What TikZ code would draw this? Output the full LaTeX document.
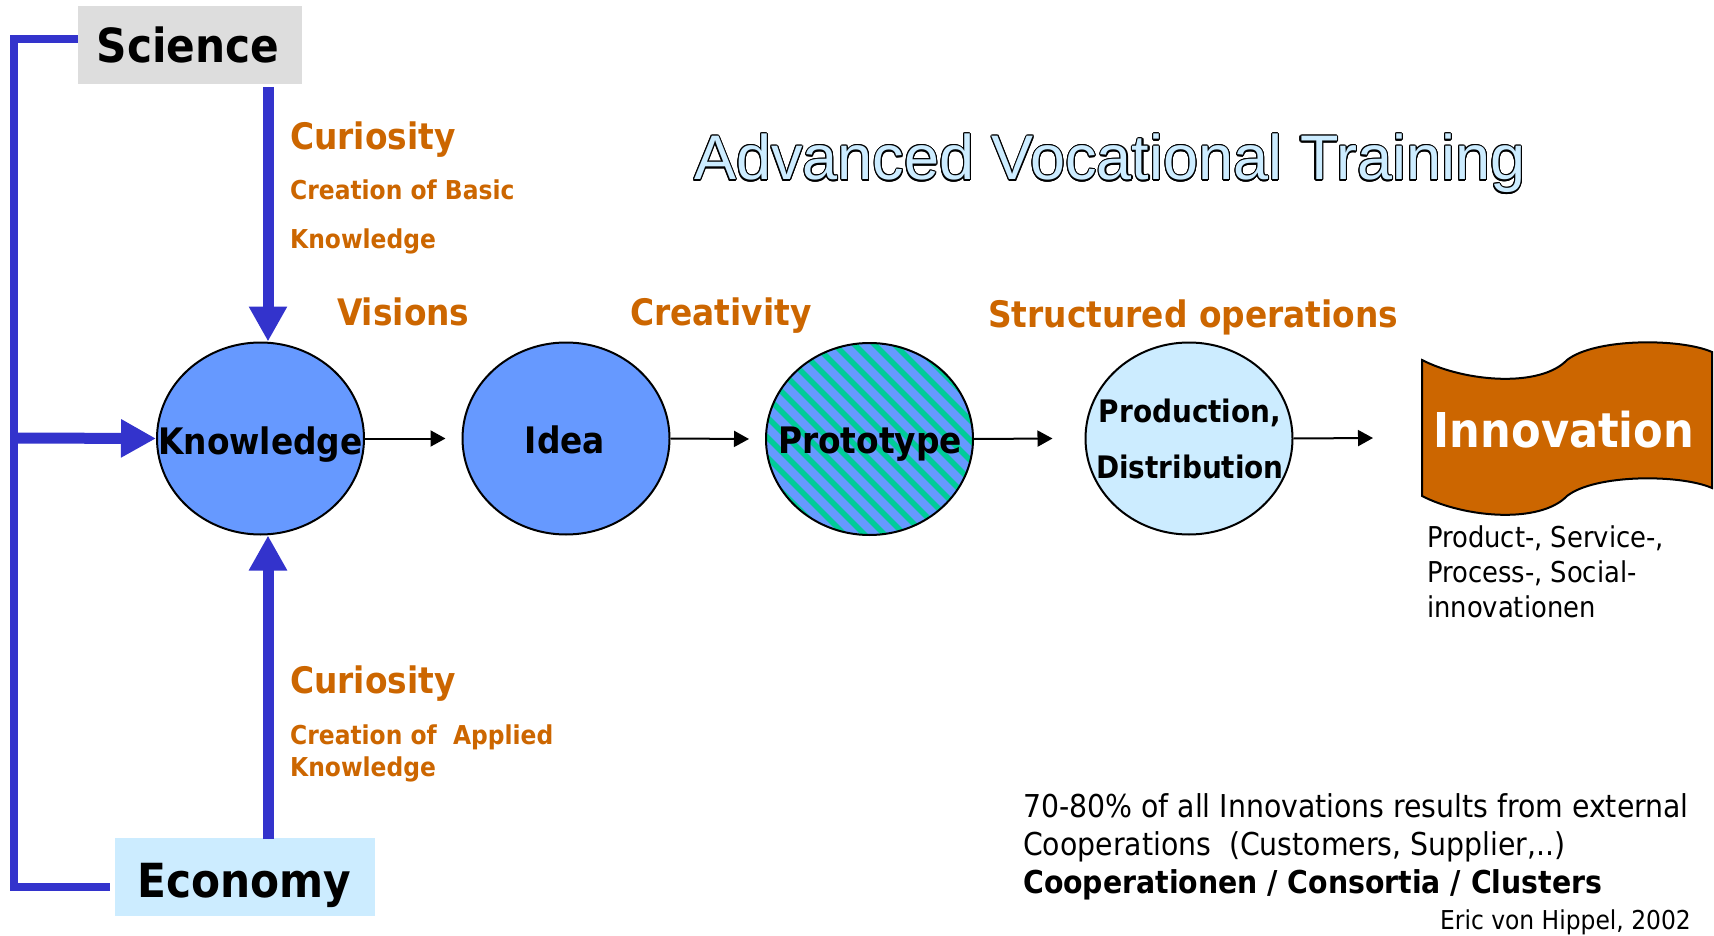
\documentclass[tikz,border=0pt]{standalone}
\usepackage{fontspec}
\setmainfont{DejaVu Sans Condensed}
\newfontfamily\arialf{Liberation Sans}
\usepackage{contour}
\contourlength{1.1pt}
\usetikzlibrary{arrows.meta,shapes.geometric}
\definecolor{bbar}{HTML}{3333CC}
\definecolor{ellblue}{HTML}{6699FF}
\definecolor{stripegreen}{HTML}{00CC99}
\definecolor{lblue}{HTML}{CCECFF}
\definecolor{orng}{HTML}{CC6600}
\definecolor{boxgray}{HTML}{DDDDDD}
\begin{document}
\begin{tikzpicture}[x=1pt,y=-1pt,
  lab/.style={anchor=base west, inner sep=0pt},
  clab/.style={anchor=base, inner sep=0pt},
  olab/.style={lab, text=orng, font=\bfseries\fontsize{36.5}{40}\selectfont},
  osub/.style={lab, text=orng, font=\bfseries\fontsize{26}{30}\selectfont},
  circ/.style={ellipse, draw=black, line width=2pt, minimum width=207pt, minimum height=192pt, inner sep=0pt},
  elab/.style={clab, font=\bfseries\fontsize{36.5}{40}\selectfont},
  plab/.style={clab, font=\bfseries\fontsize{31}{36}\selectfont},
  bigbox/.style={inner sep=0pt, minimum height=78pt},
  bigtxt/.style={clab, font=\bfseries\fontsize{47}{52}\selectfont},
  blueline/.style={draw=bbar, line width=8pt},
  bluearrow/.style={draw=bbar, line width=11pt, -{Triangle[length=35pt,width=36pt]}, fill=bbar},
  thinarrow/.style={draw=black, line width=2pt, -{Triangle[length=15pt,width=16pt]}},
  bodytxt/.style={lab, font=\fontsize{31.5}{38}\selectfont},
  smalltxt/.style={lab, font=\fontsize{28.7}{35}\selectfont}
]
\useasboundingbox (0,0) rectangle (1714,936);

% Science and Economy boxes
\node[bigbox, fill=boxgray, minimum width=224pt] (sci) at (190,45) {};
\node[bigtxt] (scit) at (188,63) {Science};
\node[bigbox, fill=lblue, minimum width=260pt] (eco) at (245,877) {};
\node[bigtxt] (ecot) at (244,897) {Economy};

% ellipses
\node[circ, fill=ellblue] (kn) at (260.5,438.5) {};
\node[circ, fill=ellblue] (idea) at (566,438.5) {};
\begin{scope}
  \clip (869.5,439) ellipse [x radius=103.5, y radius=96];
  \fill[ellblue] (760,335) rectangle (980,545);
  \foreach \k in {0,...,24}
    \draw[stripegreen, line width=5.5pt] ({540+\k*20},330) -- ({760+\k*20},550);
\end{scope}
\node[circ] (proto) at (869.5,439) {};
\node[circ, fill=lblue] (prod) at (1189,438.5) {};

\node[elab] (knt) at (260.5,454) {Knowledge};
\node[elab] (ideat) at (565,453) {Idea};
\node[elab] (protot) at (870,453) {Prototype};
\node[plab] (prodt1) at (1190,422) {Production,};
\node[plab] (prodt2) at (1190,478) {Distribution};

% Innovation banner
\draw[fill=orng, line width=2pt] (1422,360)
  .. controls (1465,382) and (1540,388) .. (1567,360)
  .. controls (1595,338) and (1680,338) .. (1712,352)
  -- (1712,488)
  .. controls (1680,474) and (1595,474) .. (1567,496)
  .. controls (1540,524) and (1465,518) .. (1422,496) -- cycle;
\coordinate (innl) at (1422,438);
\node[clab, text=white, font=\bfseries\fontsize{48}{52}\selectfont] (inn) at (1564,447) {Innovation};
\node[smalltxt] (it1) at (1427,547) {Product-, Service-,};
\node[smalltxt] (it2) at (1427,582) {Process-, Social-};
\node[smalltxt] (it3) at (1427,617) {innovationen};

% blue bracket and arrows
\coordinate (tl) at (14,39);
\coordinate (bl) at (14,887);
\coordinate (ml) at (14,438);
\coordinate (br) at (110,887);
\draw[blueline] (sci.west |- tl) -- (tl) -- (bl) -- (br);
\draw[bluearrow] (ml) -- (kn.west);
\coordinate (sa) at (268,87);
\coordinate (ea) at (268,839);
\draw[bluearrow] (sa) -- (sa |- kn.north);
\draw[bluearrow] (ea) -- (ea |- kn.south);

% thin arrows
\draw[thinarrow] (kn.east) -- ([xshift=-16pt]idea.west);
\draw[thinarrow] (idea.east) -- ([xshift=-16pt]proto.west);
\draw[thinarrow] (proto.east) -- ([xshift=-32pt]prod.west);
\draw[thinarrow] (prod.east) -- ([xshift=-49pt]innl);

% orange labels
\node[olab] (cur1) at (290,150) {Curiosity};
\node[osub] (cb1) at (290,200) {Creation of Basic};
\node[osub] (cb2) at (290,248) {Knowledge};
\node[olab] (vis) at (337,325) {Visions};
\node[olab] (cre) at (630,325) {Creativity};
\node[olab] (str) at (988,327) {Structured operations};
\node[olab] (cur2) at (290,693) {Curiosity};
\node[osub] (ca1) at (290,744) {Creation of\ \ Applied};
\node[osub] (ca2) at (290,776) {Knowledge};

% title
\node[lab, font=\arialf\fontsize{63}{70}\selectfont] (title) at (694,180) {\contour{black}{\textcolor{lblue}{Advanced Vocational Training}}};

% bottom text
\node[bodytxt] (q1) at (1023,817) {70-80\% of all Innovations results from external};
\node[bodytxt] (q2) at (1023,855) {Cooperations\ \ (Customers, Supplier,..)};
\node[bodytxt, font=\bfseries\fontsize{31.5}{38}\selectfont] (q3) at (1023,893) {Cooperationen / Consortia / Clusters};
\node[anchor=base east, inner sep=0pt, font=\fontsize{26}{30}\selectfont] (q4) at (1691,929) {Eric von Hippel, 2002};
\end{tikzpicture}
\end{document}
